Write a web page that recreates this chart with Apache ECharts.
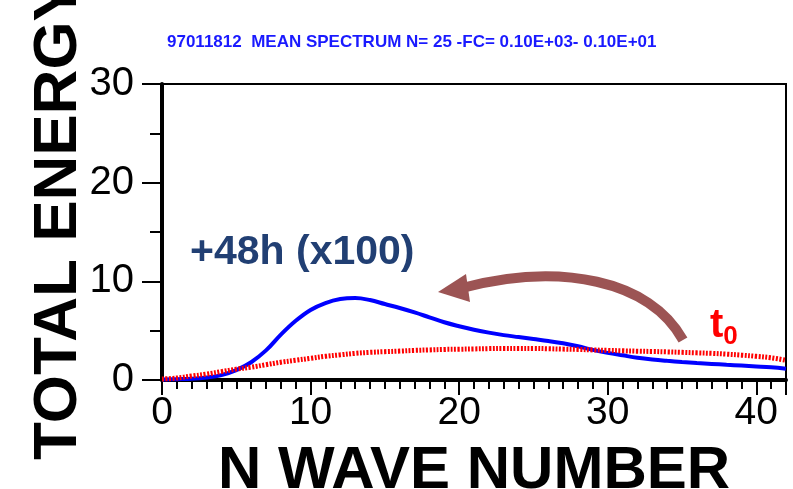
<!DOCTYPE html>
<html>
<head>
<meta charset="utf-8">
<script src="https://cdn.jsdelivr.net/npm/echarts@6/dist/echarts.min.js"></script>
<style>
  html, body { margin: 0; padding: 0; background: #fff; }
  #chart { width: 793px; height: 489px; }
</style>
</head>
<body>
<div id="chart"></div>
<script>
// wave numbers 0..42
const waveNumbers = [0,1,2,3,4,5,6,7,8,9,10,11,12,13,14,15,16,17,18,19,20,21,22,23,24,25,26,27,28,29,30,31,32,33,34,35,36,37,38,39,40,41,42];
// +48h spectrum (x100)
const energy48h = [0.05,0.08,0.12,0.25,0.5,1.0,1.8,3.0,4.6,6.0,7.1,7.8,8.2,8.3,8.1,7.7,7.3,6.85,6.35,5.85,5.45,5.1,4.8,4.55,4.35,4.15,3.95,3.72,3.42,3.05,2.75,2.5,2.26,2.08,1.94,1.82,1.72,1.63,1.54,1.46,1.38,1.29,1.15];
// t0 spectrum
const energyT0 = [0.1,0.2,0.4,0.6,0.85,1.1,1.3,1.55,1.8,2.0,2.2,2.4,2.55,2.7,2.8,2.87,2.93,3.0,3.05,3.1,3.12,3.15,3.18,3.2,3.2,3.2,3.17,3.13,3.1,3.05,3.0,2.96,2.92,2.89,2.85,2.8,2.75,2.7,2.62,2.52,2.4,2.25,2.0];
const xTicks = [0, 10, 20, 30, 40];
const yTicks = [0, 10, 20, 30];

const titleText = '97011812  MEAN SPECTRUM N= 25 -FC= 0.10E+03- 0.10E+01';
const font = '"Liberation Sans", Arial, Helvetica, sans-serif';

const chart = echarts.init(document.getElementById('chart'));

const option = {
  animation: false,
  backgroundColor: '#fff',
  textStyle: { fontFamily: font },
  title: {
    text: titleText,
    left: 162,
    top: 29,
    textStyle: { color: '#1a1aff', fontSize: 17, fontWeight: 'bold', fontFamily: font }
  },
  grid: {
    left: 162,
    right: 7,
    top: 84,
    bottom: 109,
    outerBoundsMode: 'none',
    containLabel: false,
    show: true,
    borderColor: '#000',
    borderWidth: 2
  },
  xAxis: {
    type: 'value',
    min: 0,
    max: 42,
    interval: 10,
    name: 'N WAVE NUMBER',
    nameLocation: 'middle',
    nameGap: 61,
    nameMoveOverlap: false,
    nameTextStyle: { color: '#000', fontSize: 60, fontWeight: 'bold', fontFamily: font },
    axisLine: { show: true, lineStyle: { color: '#000', width: 4 } },
    axisTick: { show: true, inside: false, length: 15, lineStyle: { color: '#000', width: 2 } },
    minorTick: { show: true, splitNumber: 10, length: 9, lineStyle: { color: '#000', width: 2 } },
    axisLabel: {
      color: '#000', fontSize: 39, margin: 14, fontFamily: font,
      formatter: v => (xTicks.indexOf(v) >= 0 ? String(v) : '')
    },
    splitLine: { show: false }
  },
  yAxis: {
    type: 'value',
    min: 0,
    max: 30,
    interval: 10,
    name: 'TOTAL ENERGY',
    nameLocation: 'middle',
    nameGap: 72,
    nameMoveOverlap: false,
    nameTextStyle: { color: '#000', fontSize: 62, fontWeight: 'bold', fontFamily: font, padding: [0, 0, 0, 24] },
    axisLine: { show: true, lineStyle: { color: '#000', width: 4 } },
    axisTick: { show: true, inside: false, length: 20, lineStyle: { color: '#000', width: 2 } },
    minorTick: { show: true, splitNumber: 2, length: 12, lineStyle: { color: '#000', width: 2 } },
    axisLabel: {
      color: '#000', fontSize: 40, margin: 28, fontFamily: font,
      formatter: v => (yTicks.indexOf(v) >= 0 ? String(v) : '')
    },
    splitLine: { show: false }
  },
  series: [
    {
      name: '+48h (x100)',
      type: 'line',
      data: waveNumbers.map((n, i) => [n, energy48h[i]]),
      smooth: 0.4,
      showSymbol: false,
      lineStyle: { color: '#0000ff', width: 4 },
      z: 2
    },
    {
      name: 't0',
      type: 'line',
      data: waveNumbers.map((n, i) => [n, energyT0[i]]),
      smooth: 0.4,
      showSymbol: false,
      lineStyle: { color: '#ff0000', width: 5, type: [2, 1.5] },
      z: 3
    }
  ],
  graphic: [
    {
      type: 'text',
      left: 190,
      top: 232,
      style: { text: '+48h (x100)', fill: '#213f73', font: 'bold 41px ' + font }
    },
    {
      type: 'text',
      left: 710,
      top: 306,
      style: {
        text: '{t|t}{s|0}',
        rich: {
          t: { fill: '#ff0000', font: 'bold 40px ' + font },
          s: { fill: '#ff0000', font: 'bold 26px ' + font, padding: [22, 0, 0, 0] }
        }
      }
    },
    {
      // curved arrow, from t0 towards +48h
      type: 'bezierCurve',
      shape: { x1: 683, y1: 340, cpx1: 650, cpy1: 280, cpx2: 560, cpy2: 262, x2: 462, y2: 288 },
      style: { stroke: '#9c5454', lineWidth: 10, fill: null }
    },
    {
      type: 'polygon',
      shape: { points: [[438, 292], [466, 274], [470, 302]] },
      style: { fill: '#9c5454' }
    }
  ]
};

chart.setOption(option);
</script>
</body>
</html>
